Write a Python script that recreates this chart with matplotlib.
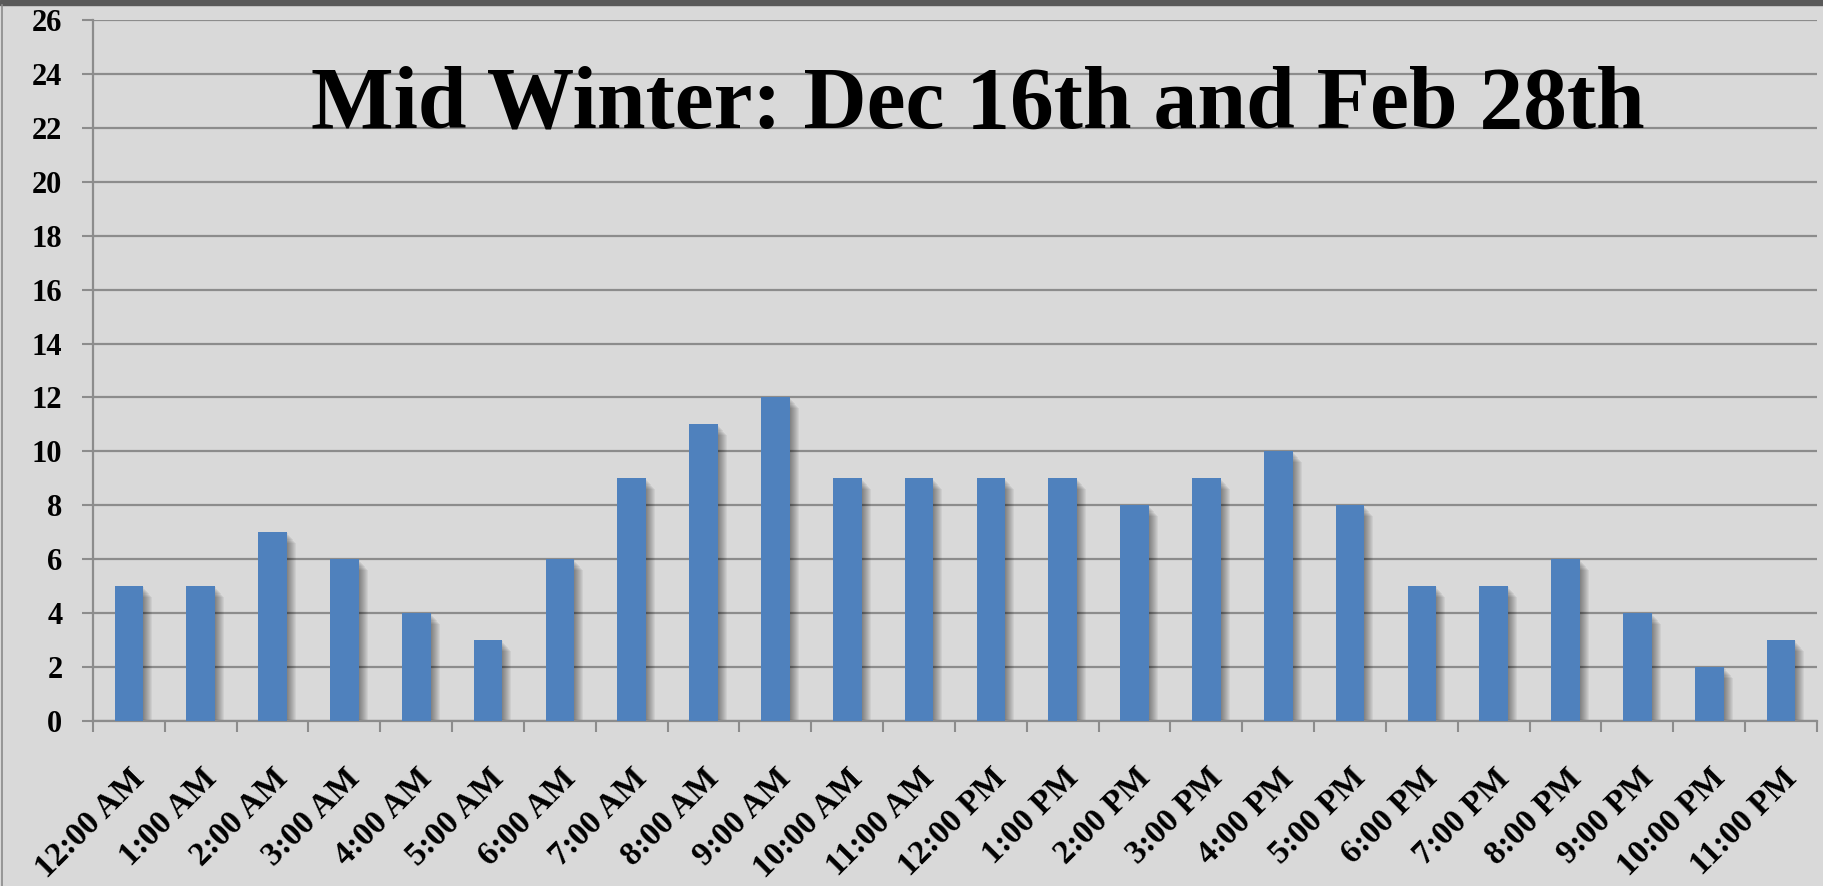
import matplotlib
matplotlib.use('Agg')
from matplotlib import pyplot as plt
from matplotlib.lines import Line2D
from matplotlib.patches import Rectangle
import numpy as np

# hourly counts, mid winter
hours = ['12:00 AM', '1:00 AM', '2:00 AM', '3:00 AM', '4:00 AM', '5:00 AM',
         '6:00 AM', '7:00 AM', '8:00 AM', '9:00 AM', '10:00 AM', '11:00 AM',
         '12:00 PM', '1:00 PM', '2:00 PM', '3:00 PM', '4:00 PM', '5:00 PM',
         '6:00 PM', '7:00 PM', '8:00 PM', '9:00 PM', '10:00 PM', '11:00 PM']
counts = [5, 5, 7, 6, 4, 3, 6, 9, 11, 12, 9, 9, 9, 9, 8, 9, 10, 8, 5, 5, 6, 4, 2, 3]
y_ticks = list(range(0, 27, 2))
title = 'Mid Winter: Dec 16th and Feb 28th'

bg = '#d9d9d9'
grid_c = '#8c8c8c'
serif = 'Liberation Serif'

fig = plt.figure(figsize=(18.24, 8.86), dpi=100, facecolor=bg)
ax = fig.add_axes([93/1824, 1-721/886, (1817-93)/1824, (721-20)/886])
ax.set_facecolor(bg)

x = np.arange(len(hours))
vals = np.array(counts, dtype=float)

# soft shadow to the lower right of each bar
px = 1/71.8      # one pixel in category units
py = 1/26.96     # one pixel in value units
for k in range(1, 10):
    ax.bar(x + k*px, vals - k*py*1.2, width=0.4, color='black',
           alpha=0.05, zorder=2, linewidth=0)
ax.bar(x, vals, width=0.4, color='#4f81bd', zorder=3, linewidth=0)

ax.set_xlim(-0.5, len(hours)-0.5)
ax.set_ylim(0, 26)
ax.set_yticks(y_ticks)
ax.set_yticklabels([str(t) for t in y_ticks], fontsize=22, fontweight='bold', family=serif)
ax.yaxis.grid(True, color=grid_c, linewidth=1.6, zorder=1)
ax.set_axisbelow(True)

ax.set_xticks(np.arange(-0.5, len(hours)), minor=False)
ax.set_xticklabels([])
ax.set_xticks(x, minor=True)
ax.set_xticklabels(hours, minor=True, rotation=45, ha='right', va='top',
                   rotation_mode='anchor', fontsize=24, fontweight='bold', family=serif)
ax.tick_params(axis='x', which='major', length=8, width=1.5, color=grid_c)
ax.tick_params(axis='x', which='minor', length=0, pad=30)
ax.tick_params(axis='y', length=8, width=1.5, color=grid_c, pad=14)

for s in ['top', 'right']:
    ax.spines[s].set_visible(False)
for s in ['left', 'bottom']:
    ax.spines[s].set_color(grid_c)
    ax.spines[s].set_linewidth(1.6)

ax.text(0.513, 0.847, title, transform=ax.transAxes, ha='center', va='baseline',
        fontsize=63, fontweight='bold', family=serif, zorder=5)

# frame bits of the original slide
fig.patches.append(Rectangle((0, 1-5/886), 1, 5/886, transform=fig.transFigure,
                             color='#595959', zorder=0))
fig.lines.append(Line2D([2/1824, 2/1824], [0, 1-5/886], transform=fig.transFigure,
                        color='#8a8a8a', linewidth=1.2))

fig.savefig('out.png', dpi=100, facecolor=bg)
